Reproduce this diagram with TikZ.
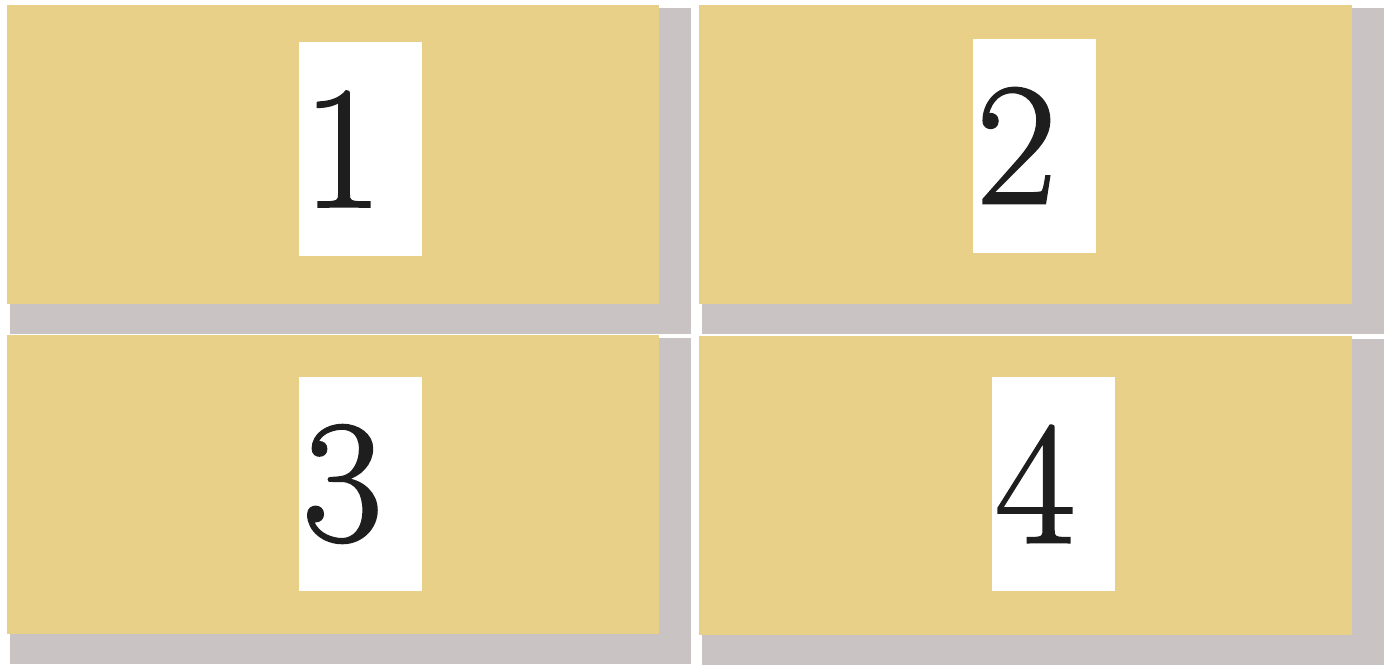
\documentclass[tikz,border=0pt]{standalone}
\usepackage{fontspec}
\newfontfamily\digitfont{Latin Modern Roman}[FakeBold=1.2]
\usetikzlibrary{backgrounds}
\definecolor{panelTan}{RGB}{232,208,136}
\definecolor{shadowGray}{RGB}{201,195,195}
\definecolor{digitInk}{RGB}{30,30,30}
\begin{document}
\begin{tikzpicture}
  [x=1pt,y=-1pt,every node/.style={inner sep=0pt,outer sep=0pt},
   panel/.style={rectangle,fill=panelTan,anchor=north west,minimum height=299pt},
   numbox/.style={rectangle,fill=white,minimum width=123pt,minimum height=214pt},
   numtext/.style={text=digitInk,font=\digitfont\fontsize{175}{175}\selectfont}]
  \useasboundingbox (0,0) rectangle (1390,665);

  \foreach \name/\px/\py/\pw/\bx/\by/\num in
    {p1/7/5/652/360.5/149/1, p2/699/5/653/1034.5/145.5/2,
     p3/7/335/652/360.5/484/3, p4/699/336/653/1053/484/4}
  {
    \node[panel,minimum width=\pw pt] (\name) at (\px,\py) {};
    \begin{scope}[on background layer]
      \fill[shadowGray] ([shift={(3,3)}]\name.north west) rectangle ([shift={(32,30)}]\name.south east);
    \end{scope}
    \node[numbox] (b\num) at (\bx,\by) {};
    \node[numtext] (n\num) at ([xshift=-18pt]b\num.center) {\num};
  }

\end{tikzpicture}
\end{document}
